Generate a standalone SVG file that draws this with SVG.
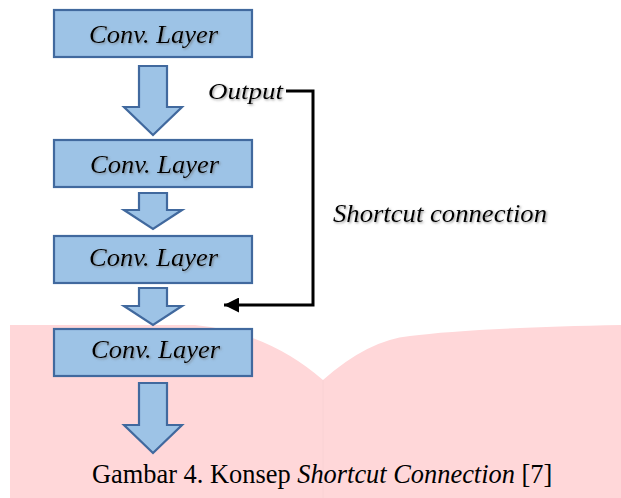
<svg xmlns="http://www.w3.org/2000/svg" width="621" height="498" viewBox="0 0 621 498">
<defs>
<style>
.box{fill:#9DC3E6;stroke:#41699E;stroke-width:2.2}
.blk{fill:#9DC3E6;stroke:#41699E;stroke-width:2.2;stroke-linejoin:miter}
.lbl{font-family:"Liberation Serif","Times New Roman",serif;font-style:italic;fill:#000}
.cap{font-family:"Liberation Serif","Times New Roman",serif;font-size:26.4px;fill:#000}
.link{fill:none;stroke:#000;stroke-width:3}
</style>
<filter id="sh" x="-10%" y="-30%" width="120%" height="160%">
<feDropShadow dx="1.2" dy="1.2" stdDeviation="0.8" flood-color="#666" flood-opacity="0.65"/>
</filter>
<marker id="ah" viewBox="0 0 15 15" refX="15" refY="7.5" markerWidth="15" markerHeight="15" markerUnits="userSpaceOnUse" orient="auto">
<path d="M0,0 L15,7.5 L0,15 Z" fill="#000"/>
</marker>
</defs>
<rect width="621" height="498" fill="#fff"/>
<path d="M10,325 L195,325 Q268,332 323,380 Q368,340 410,336 Q470,328 621,325 V498 H10 Z" fill="#FFD7D9"/>
<line x1="323" y1="380" x2="323" y2="498" stroke="#F9D2D4" stroke-width="1"/>

<g id="connectors">
<polygon class="blk" points="139,66 167,66 167,107 182,107 153,135 124,107 139,107"/>
<polygon class="blk" points="139,193 167,193 167,210 182,210 153,229 124,210 139,210"/>
<polygon class="blk" points="139,288 167,288 167,306 182,306 153,325 124,306 139,306"/>
<polygon class="blk" points="139,383 167,383 167,425 182,425 153,453 124,425 139,425"/>
<path class="link" d="M286,91 H313 V305 H224" marker-end="url(#ah)"/>
</g>

<g id="layer1">
<rect class="box" x="54" y="10" width="198" height="47"/>
<text class="lbl" x="89" y="42.5" font-size="25" textLength="129" lengthAdjust="spacingAndGlyphs" filter="url(#sh)">Conv. Layer</text>
</g>
<g id="layer2">
<rect class="box" x="54" y="140" width="198" height="47"/>
<text class="lbl" x="90" y="172.5" font-size="25" textLength="129" lengthAdjust="spacingAndGlyphs" filter="url(#sh)">Conv. Layer</text>
</g>
<g id="layer3">
<rect class="box" x="54" y="236" width="198" height="47"/>
<text class="lbl" x="89" y="265.5" font-size="25" textLength="129" lengthAdjust="spacingAndGlyphs" filter="url(#sh)">Conv. Layer</text>
</g>
<g id="layer4">
<rect class="box" x="54" y="329" width="198" height="47"/>
<text class="lbl" x="91" y="357.5" font-size="25" textLength="129" lengthAdjust="spacingAndGlyphs" filter="url(#sh)">Conv. Layer</text>
</g>

<g id="labels">
<text class="lbl" x="208" y="99" font-size="24" textLength="75" lengthAdjust="spacingAndGlyphs" filter="url(#sh)">Output</text>
<text class="lbl" x="333" y="222" font-size="25" textLength="214" lengthAdjust="spacingAndGlyphs" filter="url(#sh)">Shortcut connection</text>
</g>

<text class="cap" x="92" y="483">Gambar 4. Konsep <tspan font-style="italic">Shortcut Connection</tspan> [7]</text>
</svg>
